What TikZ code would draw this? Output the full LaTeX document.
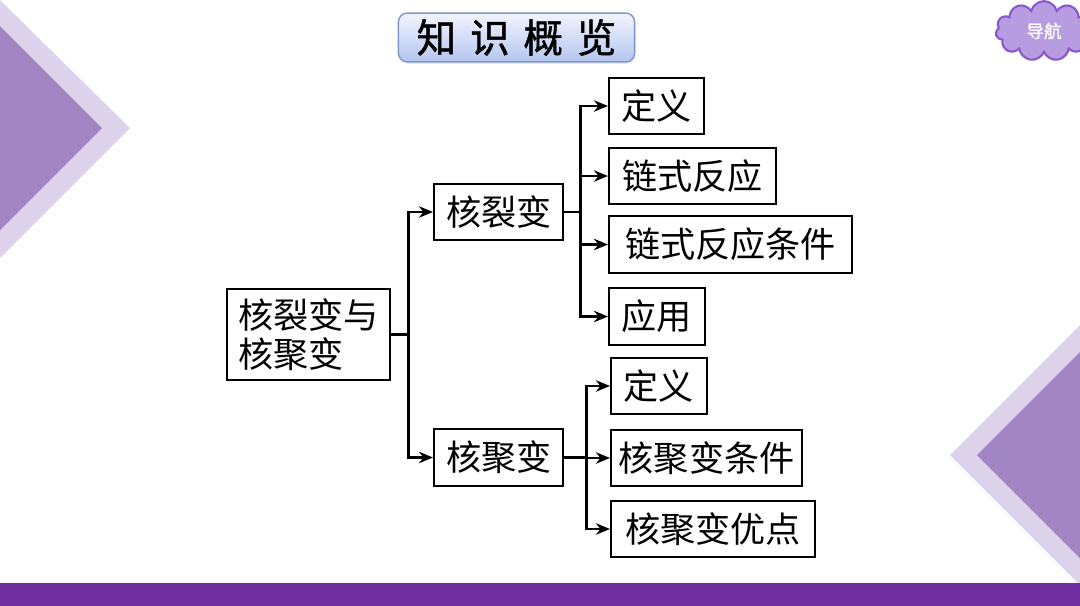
\documentclass[tikz,border=0pt]{standalone}
\usepackage{fontspec}
\setmainfont{Noto Sans CJK SC}
\newfontfamily\titlefont[FakeBold=1.2]{Noto Sans CJK SC}
\newcommand\titlestyle{\fontsize{22.5}{24}\titlefont\spaceskip=0.35em\relax}
\usepackage{tikz}
\usetikzlibrary{positioning, calc, arrows.meta, shapes.symbols, shadows}
\definecolor{barpurple}{HTML}{7030A0}
\definecolor{triouter}{HTML}{DDD3EA}
\definecolor{triinner}{HTML}{A286C4}
\definecolor{navfill}{HTML}{B89CE2}
\definecolor{navedge}{HTML}{8A58CC}
\definecolor{titletop}{HTML}{F2F5FE}
\definecolor{titlebot}{HTML}{B3C5F0}
\definecolor{titleedge}{HTML}{8197CC}

\begin{document}
\begin{tikzpicture}[x=0.02cm, y=-0.02cm,
    box/.style={draw, line width=1.1pt, anchor=west, inner sep=0pt,
        minimum height=32.3pt, font=\fontsize{20}{22}\selectfont},
    wire/.style={line width=1.5pt, -{Stealth[length=8pt,width=6.5pt]}},
    bar/.style={line width=1.5pt}]
    \useasboundingbox (0,0) rectangle (1080,606);

    % Background decoration
    \fill[triouter] (0,0) -- (130,128) -- (0,258) -- cycle;
    \fill[triinner] (0,26) -- (102,128) -- (0,230) -- cycle;
    \fill[triouter] (1080,325) -- (950,455) -- (1080,585) -- cycle;
    \fill[triinner] (1080,352) -- (977,455) -- (1080,558) -- cycle;
    \fill[barpurple] (0,583) rectangle (1080,606);

    % Title
    \node[draw=titleedge, line width=0.8pt, rounded corners=5pt,
        top color=titletop, bottom color=titlebot,
        drop shadow={opacity=0.2, shadow xshift=0.6pt, shadow yshift=-1pt},
        minimum width=134.4pt, minimum height=27.8pt, inner sep=0pt,
        font=\titlestyle] (title) at (516.5,37.5) {知 识 概 览};

    % Navigation cloud
    \node[cloud, cloud puffs=11, aspect=1.6, draw=navedge, fill=navfill,
        line width=1.2pt, minimum width=55pt, minimum height=34pt, inner sep=0pt,
        text=white, font=\fontsize{10}{11}\titlefont] (nav) at (1044,31) {导航};

    % Nodes
    \node[box, minimum width=93pt, minimum height=51.6pt, align=left,
        font=\fontsize{20}{22.1}\selectfont] (root) at (226,334.5) {核裂变与\\核聚变};
    \node[box, minimum width=73.7pt] (fis) at (433,212) {核裂变};
    \node[box, minimum width=73.7pt] (fus) at (433,457.5) {核聚变};

    \node[box, minimum width=53.9pt] (fisdef) at (608,106) {定义};
    \node[box, minimum width=95.3pt] (chain) at (608,176) {链式反应};
    \node[box, minimum width=138.3pt] (chaincond) at (608,244.5) {链式反应条件};
    \node[box, minimum width=54.4pt] (use) at (608,316.5) {应用};

    \node[box, minimum width=54.4pt] (fusdef) at (610,386) {定义};
    \node[box, minimum width=108.9pt] (fuscond) at (610,458) {核聚变条件};
    \node[box, minimum width=116.2pt] (fusgood) at (610,529) {核聚变优点};

    % Connectors
    \coordinate (rootj) at ($(root.east)+(17,0)$);
    \draw[bar] (root.east) -- (rootj);
    \draw[wire] (rootj) |- (fis);
    \draw[wire] (rootj) |- (fus);

    \coordinate (fisj) at ($(fis.east)+(16,0)$);
    \draw[bar] (fis.east) -- (fisj);
    \foreach \n in {fisdef, chain, chaincond, use}
        \draw[wire] (fisj) |- (\n);

    \coordinate (fusj) at ($(fus.east)+(22,0)$);
    \draw[bar] (fus.east) -- (fusj);
    \foreach \n in {fusdef, fuscond, fusgood}
        \draw[wire] (fusj) |- (\n);
\end{tikzpicture}
\end{document}
